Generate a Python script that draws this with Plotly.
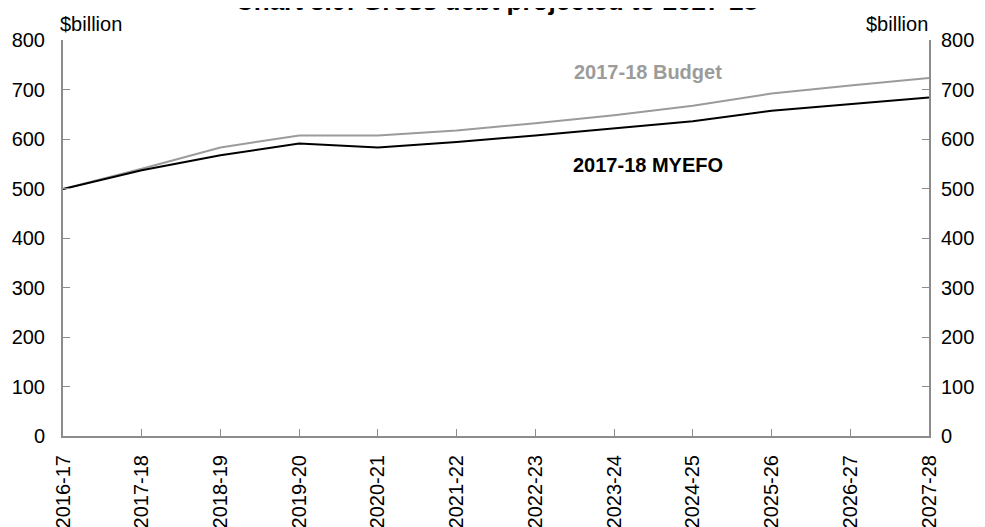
import plotly.graph_objects as go

years = ["2016-17", "2017-18", "2018-19", "2019-20", "2020-21", "2021-22",
         "2022-23", "2023-24", "2024-25", "2025-26", "2026-27", "2027-28"]
budget = [499, 540, 583, 607, 607, 617, 632, 648, 667, 692, 708, 723]
myefo = [499, 537, 567, 591, 583, 594, 607, 622, 636, 657, 670, 684]

y_ticks = [0, 100, 200, 300, 400, 500, 600, 700, 800]

FONT = "Liberation Sans, Arial, sans-serif"
GRAY_AX = "#8c8c8c"

fig = go.Figure()
fig.add_trace(go.Scatter(x=years, y=budget, mode="lines", name="2017-18 Budget",
                         line=dict(color="#9b9b9b", width=2)))
fig.add_trace(go.Scatter(x=years, y=myefo, mode="lines", name="2017-18 MYEFO",
                         line=dict(color="#000000", width=2)))
# invisible trace to drive right axis
fig.add_trace(go.Scatter(x=years, y=myefo, mode="lines", yaxis="y2",
                         line=dict(width=0), hoverinfo="skip", showlegend=False, opacity=0))

axis_common = dict(range=[0, 800], tickvals=y_ticks, ticks="inside", ticklen=7,
                   tickcolor=GRAY_AX, showline=True, linecolor=GRAY_AX, linewidth=2,
                   showgrid=False, zeroline=False, automargin=False,
                   tickfont=dict(family=FONT, size=20, color="#000"))

fig.update_layout(
    width=977, height=519,
    margin=dict(l=55, r=56, t=32, b=91),
    paper_bgcolor="white", plot_bgcolor="white",
    showlegend=False,
    font=dict(family=FONT, color="#000"),
    xaxis=dict(type="category", range=[0, 11], ticks="inside", ticklen=7,
               tickcolor=GRAY_AX, showline=True, linecolor=GRAY_AX, linewidth=2,
               showgrid=False, zeroline=False, tickangle=-90, ticklabelstandoff=9,
               automargin=False,
               tickfont=dict(family=FONT, size=20, color="#000")),
    yaxis=dict(side="left", ticklabelstandoff=12, **axis_common),
    yaxis2=dict(side="right", overlaying="y", ticklabelstandoff=6, **axis_common),
    annotations=[
        dict(text="<b>Chart 3.9: Gross debt projected to 2027-28</b>", xref="paper", yref="paper",
             x=0.5, y=1, xanchor="center", yanchor="bottom", yshift=22, showarrow=False,
             font=dict(family=FONT, size=26, color="#000")),
        dict(text="$billion", xref="paper", yref="paper", x=0.0329, y=1.0404, xanchor="center",
             yanchor="middle", showarrow=False,
             font=dict(family=FONT, size=20, color="#000")),
        dict(text="$billion", xref="paper", yref="paper", x=0.9625, y=1.0404, xanchor="center",
             yanchor="middle", showarrow=False,
             font=dict(family=FONT, size=20, color="#000")),
        dict(text="<b>2017-18 Budget</b>", xref="x", yref="y", x=7.43, y=735,
             xanchor="center", yanchor="middle", showarrow=False,
             font=dict(family=FONT, size=20, color="#9b9b9b")),
        dict(text="<b>2017-18 MYEFO</b>", xref="x", yref="y", x=7.43, y=547,
             xanchor="center", yanchor="middle", showarrow=False,
             font=dict(family=FONT, size=20, color="#000")),
    ],
)

fig.write_html("out.html")
